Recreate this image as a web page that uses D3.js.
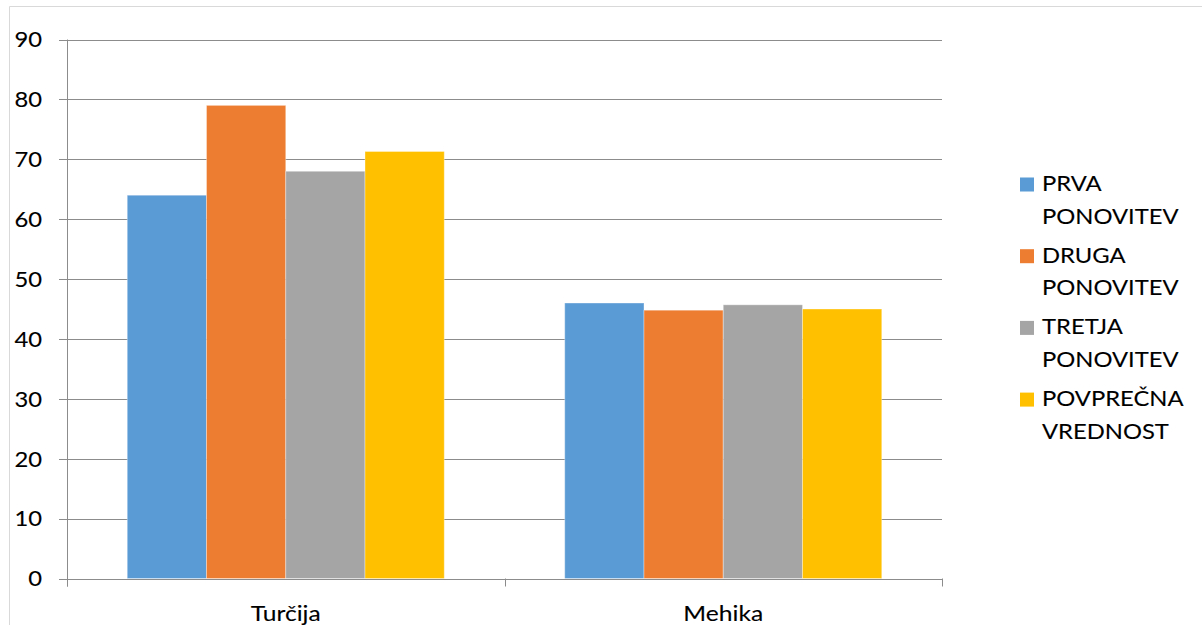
<!DOCTYPE html>
<html>
<head>
<meta charset="utf-8">
<script src="https://cdn.jsdelivr.net/npm/d3@7"></script>
<style>
  html, body { margin: 0; padding: 0; background: #fff; }
  svg { display: block; font-family: Lato, "Open Sans", sans-serif; }
  svg text { stroke: #000; stroke-width: 0.1px; }
</style>
</head>
<body>
<svg id="chart" width="1202" height="625"></svg>
<script>
// Countries on the x axis
const categories = ["Turčija", "Mehika"];
// One entry per measurement series
const seriesNames = ["PRVA PONOVITEV", "DRUGA PONOVITEV", "TRETJA PONOVITEV", "POVPREČNA VREDNOST"];
const legendLines = [["PRVA", "PONOVITEV"], ["DRUGA", "PONOVITEV"], ["TRETJA", "PONOVITEV"], ["POVPREČNA", "VREDNOST"]];
const prva = [64, 46];
const druga = [79, 44.8];
const tretja = [68, 45.7];
const povprecna = [71.3, 45];
const yTicks = [0, 10, 20, 30, 40, 50, 60, 70, 80, 90];
const colors = ["#5B9BD5", "#ED7D31", "#A5A5A5", "#FFC000"];

const values = [prva, druga, tretja, povprecna];
const SX = 1.16;          // horizontal text stretch
const FONT = 20.5;
const svg = d3.select("#chart");

// chart frame
svg.append("path")
  .attr("d", "M9.5,625 V6.5 H1202")
  .attr("fill", "none").attr("stroke", "#d9d9d9").attr("stroke-width", 1);

const plot = { left: 67, right: 942, top: 39.5, bottom: 578.5 };

const y = d3.scaleLinear().domain([0, 90]).range([plot.bottom, plot.top]);
const x0 = d3.scaleBand().domain(categories).range([plot.left, plot.right]).paddingInner(0).paddingOuter(0);
const x1 = d3.scaleBand().domain(d3.range(seriesNames.length))
  .range([0, x0.bandwidth()]).paddingInner(0).paddingOuter(0.76);

// horizontal gridlines
svg.append("g").selectAll("line").data(yTicks).join("line")
  .attr("x1", plot.left - 8).attr("x2", plot.right)
  .attr("y1", d => Math.round(y(d)) + 0.5).attr("y2", d => Math.round(y(d)) + 0.5)
  .attr("stroke", "#8c8c8c").attr("stroke-width", 1);

// bars
const groups = svg.append("g").selectAll("g").data(categories).join("g")
  .attr("transform", d => `translate(${x0(d)},0)`);
groups.selectAll("rect")
  .data((c, ci) => values.map((s, si) => ({ si, v: s[ci] })))
  .join("rect")
  .attr("x", d => x1(d.si))
  .attr("width", x1.bandwidth())
  .attr("y", d => y(d.v))
  .attr("height", d => y(0) - y(d.v))
  .attr("fill", d => colors[d.si])
  .attr("stroke", "rgba(255,255,255,0.35)")
  .attr("stroke-width", 1);

// y axis line and x axis category ticks
svg.append("line")
  .attr("x1", plot.left + 0.5).attr("x2", plot.left + 0.5)
  .attr("y1", plot.top).attr("y2", plot.bottom + 8)
  .attr("stroke", "#8c8c8c");
const boundaries = categories.map(c => x0(c)).concat([plot.right]);
svg.append("g").selectAll("line").data(boundaries).join("line")
  .attr("x1", d => Math.round(d) + 0.5).attr("x2", d => Math.round(d) + 0.5)
  .attr("y1", plot.bottom).attr("y2", plot.bottom + 8)
  .attr("stroke", "#8c8c8c");

// y axis labels
const yAxis = svg.append("g")
  .attr("transform", `translate(${plot.left},0)`)
  .call(d3.axisLeft(y).tickValues(yTicks).tickSize(0).tickPadding(0));
yAxis.select(".domain").remove();
yAxis.selectAll("text")
  .attr("x", -25 / SX)
  .attr("dy", "0.36em")
  .attr("transform", `scale(${SX},1)`)
  .style("font-family", "Lato, 'Open Sans', sans-serif")
  .style("font-size", FONT + "px")
  .attr("fill", "#000");

// x axis labels
const xAxis = svg.append("g")
  .attr("transform", `translate(0,${plot.bottom})`)
  .call(d3.axisBottom(x0).tickSize(0).tickPadding(0));
xAxis.select(".domain").remove();
xAxis.selectAll(".tick text")
  .attr("y", 0).attr("dy", 0)
  .attr("transform", `translate(0,42.5) scale(${SX + 0.04},1)`)
  .style("font-family", "Lato, 'Open Sans', sans-serif")
  .style("font-size", FONT + "px")
  .attr("fill", "#000");

// legend
const legend = svg.append("g").attr("transform", "translate(1020,191)");
const item = legend.selectAll("g").data(seriesNames).join("g")
  .attr("transform", (d, i) => `translate(0,${i * 71.7})`);
item.append("rect")
  .attr("x", 0).attr("y", -13.5).attr("width", 14).attr("height", 14)
  .attr("fill", (d, i) => colors[i]);
item.each(function (d, i) {
  const g = d3.select(this);
  legendLines[i].forEach((ln, li) => {
    g.append("text")
      .attr("transform", `translate(22,${li * 32.5}) scale(${SX},1)`)
      .style("font-size", FONT + "px")
      .attr("fill", "#000")
      .text(ln);
  });
});
</script>
</body>
</html>
